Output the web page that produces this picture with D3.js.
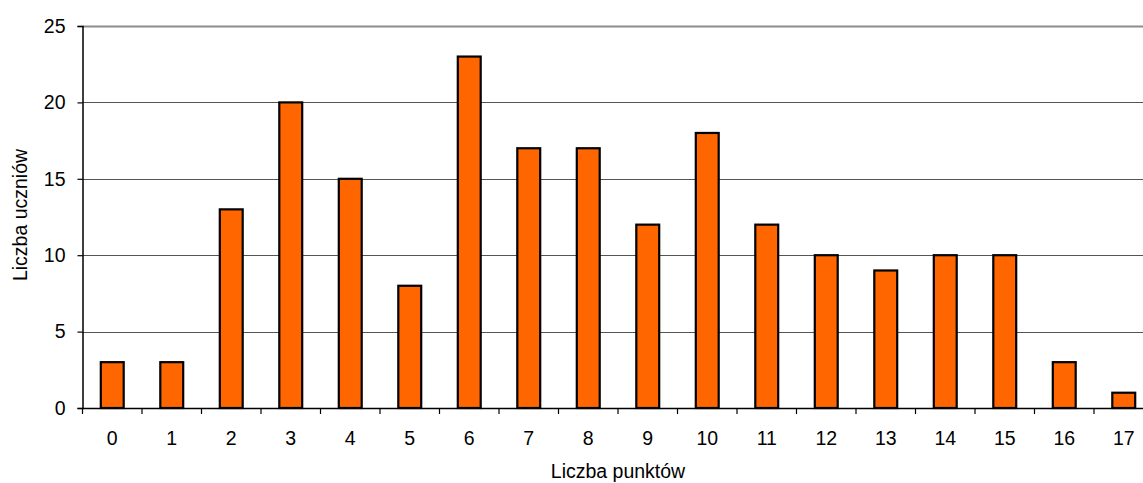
<!DOCTYPE html>
<html><head><meta charset="utf-8">
<script src="https://cdn.jsdelivr.net/npm/d3@7/dist/d3.min.js"></script>
<style>
html,body{margin:0;padding:0;background:#fff;}
svg{display:block;}
text{font-family:"Liberation Sans",Arial,sans-serif;fill:#000;}
</style></head>
<body>
<svg id="chart" width="1143" height="483"></svg>
<script>
const categories = ["0","1","2","3","4","5","6","7","8","9","10","11","12","13","14","15","16","17"];
const values = [3,3,13,20,15,8,23,17,17,12,18,12,10,9,10,10,3,1];
const yTicks = [0,5,10,15,20,25];
const xTitle = "Liczba punktów";
const yTitle = "Liczba uczniów";

(function () {
const svg = d3.select("#chart");
const W = 1143;
const mLeft = 82.5, mRight = 1153.5, mTop = 26, mBottom = 408;
const fs = 19.5;

const x = d3.scaleBand().domain(categories).range([mLeft, mRight]).padding(0);
const y = d3.scaleLinear().domain([0, 25]).range([mBottom, mTop]);

// gridlines
svg.append("g").selectAll("line").data(yTicks.filter(t => t > 0)).join("line")
  .attr("x1", mLeft).attr("x2", W)
  .attr("y1", d => Math.round(y(d)) + 0.5).attr("y2", d => Math.round(y(d)) + 0.5)
  .attr("stroke", d => d === 25 ? "#8c8c8c" : "#555")
  .attr("stroke-width", d => d === 25 ? 2 : 1);

// bars
const bw = x.bandwidth() * 0.385;
svg.append("g").selectAll("rect").data(values).join("rect")
  .attr("x", (d, i) => x(categories[i]) + x.bandwidth() / 2 - bw / 2)
  .attr("y", d => y(d))
  .attr("width", bw)
  .attr("height", d => mBottom - y(d))
  .attr("fill", "#FF6600")
  .attr("stroke", "#000")
  .attr("stroke-width", 2.2);

// y axis
const yAxis = d3.axisLeft(y).tickValues(yTicks).tickSize(5).tickPadding(12).tickFormat(d3.format("d"));
const gy = svg.append("g").attr("transform", `translate(${mLeft},0)`).call(yAxis);
gy.select(".domain").attr("stroke", "#000").attr("stroke-width", 1.5);
gy.selectAll(".tick line").attr("stroke", "#000").attr("stroke-width", 1.2);
gy.selectAll("text").attr("font-size", fs).attr("font-family", "Liberation Sans, Arial, sans-serif").attr("fill", "#000");

// x axis: ticks at band boundaries
svg.append("line").attr("x1", mLeft).attr("x2", W).attr("y1", mBottom + 0.5).attr("y2", mBottom + 0.5)
  .attr("stroke", "#000").attr("stroke-width", 1.5);
const bounds = categories.map(c => x(c)).concat([x(categories[categories.length - 1]) + x.bandwidth()]);
svg.append("g").selectAll("line").data(bounds).join("line")
  .attr("x1", d => d).attr("x2", d => d)
  .attr("y1", mBottom).attr("y2", mBottom + 6)
  .attr("stroke", "#000").attr("stroke-width", 1.2);
svg.append("g").selectAll("text").data(categories).join("text")
  .attr("x", d => x(d) + x.bandwidth() / 2)
  .attr("y", 445)
  .attr("text-anchor", "middle")
  .attr("font-size", fs)
  .text(d => d);

// titles
svg.append("text").attr("x", (mLeft + mRight) / 2).attr("y", 478)
  .attr("text-anchor", "middle").attr("font-size", fs).text(xTitle);
svg.append("text").attr("transform", `translate(27,215) rotate(-90)`)
  .attr("text-anchor", "middle").attr("font-size", fs).text(yTitle);
})();
</script>
</body></html>
